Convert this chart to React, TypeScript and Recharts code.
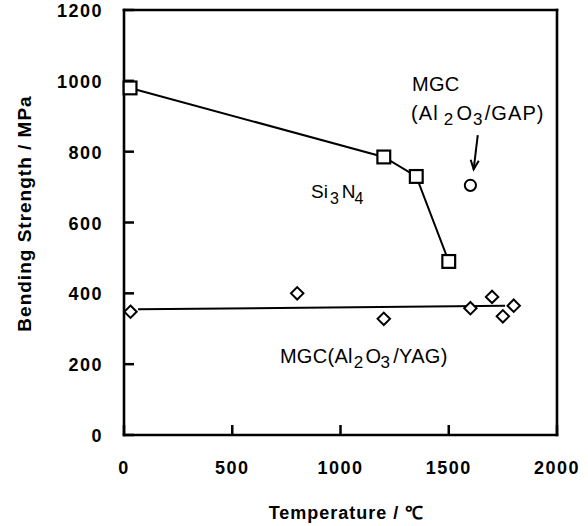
import React from 'react';
import { ScatterChart, Scatter, XAxis, YAxis, ReferenceLine, ReferenceDot } from 'recharts';

// ---- data ----
const xTicks = [0, 500, 1000, 1500, 2000];
const yTicks = [0, 200, 400, 600, 800, 1000, 1200];

const si3n4Temp = [28, 1200, 1350, 1500];
const si3n4Strength = [980, 785, 730, 490];

const yagTemp = [30, 800, 1200, 1600, 1700, 1750, 1800];
const yagStrength = [348, 400, 328, 358, 390, 335, 365];

const gapTemp = [1600];
const gapStrength = [705];

const yagFitTemp = [65, 1760];
const yagFitStrength = [355, 365];

const arrowTemp = [1634, 1615];
const arrowStrength = [847, 750];

const xTitle = 'Temperature / \u2103';
const yTitle = 'Bending Strength /  MPa';

const toPts = (xs: number[], ys: number[]) => xs.map((x, i) => ({ x, y: ys[i] }));
const si3n4Data = toPts(si3n4Temp, si3n4Strength);
const yagData = toPts(yagTemp, yagStrength);
const gapData = toPts(gapTemp, gapStrength);
const yagFit = toPts(yagFitTemp, yagFitStrength);
const arrowSeg = toPts(arrowTemp, arrowStrength);

const FONT = '"Liberation Sans", Arial, Helvetica, sans-serif';
const INK = '#000';

// ---- ticks ----
const BottomTick = (p: any) => {
  const { x, y, payload } = p;
  return (
    <g>
      <line x1={x} y1={y} x2={x} y2={y - 10} stroke={INK} strokeWidth={2.5} />
      <text x={x} y={y + 33} textAnchor="middle" dominantBaseline="central"
        fontFamily={FONT} fontWeight="bold" fontSize={18} letterSpacing={1.5} fill={INK}>
        {payload.value}
      </text>
    </g>
  );
};
const LeftTick = (p: any) => {
  const { x, y, payload } = p;
  return (
    <g>
      <line x1={x} y1={y} x2={x + 10} y2={y} stroke={INK} strokeWidth={2.5} />
      <text x={x - 21} y={y + 1} textAnchor="end" dominantBaseline="central"
        fontFamily={FONT} fontWeight="bold" fontSize={18} letterSpacing={1.5} fill={INK}>
        {payload.value}
      </text>
    </g>
  );
};
const TopTick = (p: any) => {
  const { x, y } = p;
  return <line x1={x} y1={y} x2={x} y2={y + 10} stroke={INK} strokeWidth={2.5} />;
};
const RightTick = (p: any) => {
  const { x, y } = p;
  return <line x1={x} y1={y} x2={x - 10} y2={y} stroke={INK} strokeWidth={2.5} />;
};

// ---- axis titles ----
const XTitle = (p: any) => {
  const vb = p.viewBox || { x: 124, y: 435, width: 433, height: 1 };
  return (
    <text x={vb.x + vb.width / 2 + 6} y={vb.y + 84} textAnchor="middle"
      fontFamily={FONT} fontWeight="bold" fontSize={18} letterSpacing={1} fill={INK}>
      {xTitle}
    </text>
  );
};
const YTitle = (p: any) => {
  const vb = p.viewBox || { x: 123, y: 10, width: 1, height: 425 };
  const cx = vb.x - 99;
  const cy = vb.y + vb.height / 2 - 9;
  return (
    <text x={cx} y={cy} transform={`rotate(-90 ${cx} ${cy})`} textAnchor="middle" dominantBaseline="central"
      fontFamily={FONT} fontWeight="bold" fontSize={19} letterSpacing={1} fill={INK}>
      {yTitle}
    </text>
  );
};

// ---- markers ----
const Square = (p: any) => {
  const { cx, cy } = p;
  const h = 6.4;
  return <rect x={cx - h} y={cy - h} width={2 * h} height={2 * h} fill="#fff" stroke={INK} strokeWidth={2.2} />;
};
const Diamond = (p: any) => {
  const { cx, cy } = p;
  const h = 6.2;
  return (
    <polygon points={`${cx},${cy - h} ${cx + h},${cy} ${cx},${cy + h} ${cx - h},${cy}`}
      fill="#fff" stroke={INK} strokeWidth={2} />
  );
};
const Circle = (p: any) => {
  const { cx, cy } = p;
  return <circle cx={cx} cy={cy} r={5.6} fill="#fff" stroke={INK} strokeWidth={2} />;
};

const ArrowShape = (p: any) => {
  const { x1, y1, x2, y2 } = p;
  const ang = Math.atan2(y2 - y1, x2 - x1);
  const L = 10;
  const a = 0.42;
  const ax1 = x2 - L * Math.cos(ang - a);
  const ay1 = y2 - L * Math.sin(ang - a);
  const ax2 = x2 - L * Math.cos(ang + a);
  const ay2 = y2 - L * Math.sin(ang + a);
  return (
    <g>
      <line x1={x1} y1={y1} x2={x2} y2={y2} stroke={INK} strokeWidth={2} />
      <polyline points={`${ax1},${ay1} ${x2},${y2} ${ax2},${ay2}`} fill="none" stroke={INK} strokeWidth={2} />
    </g>
  );
};

// ---- annotations ----
const txt = { fontFamily: FONT, fill: INK } as const;

const MgcLabel = (p: any) => (
  <text x={p.cx} y={p.cy} fontSize={20} letterSpacing={0.3} {...txt}>MGC</text>
);
const GapLabel = (p: any) => (
  <text x={p.cx} y={p.cy} fontSize={20} letterSpacing={1.1} {...txt}>
    (Al
    <tspan dx={5} dy={5} fontSize={17}>2</tspan>
    <tspan dx={2} dy={-5}>O</tspan>
    <tspan dy={5} fontSize={17}>3</tspan>
    <tspan dx={1} dy={-5}>/GAP)</tspan>
  </text>
);
const SiLabel = (p: any) => (
  <text x={p.cx} y={p.cy} fontSize={19} {...txt}>
    Si
    <tspan dx={2} dy={6} fontSize={16}>3</tspan>
    <tspan dx={3} dy={-6}>N</tspan>
    <tspan dx={-1} dy={6} fontSize={16}>4</tspan>
  </text>
);
const YagLabel = (p: any) => (
  <text x={p.cx} y={p.cy} fontSize={20} letterSpacing={0.3} {...txt}>
    MGC(Al
    <tspan dx={1} dy={5} fontSize={17}>2</tspan>
    <tspan dx={2} dy={-5}>O</tspan>
    <tspan dx={-1} dy={5} fontSize={17}>3</tspan>
    <tspan dx={3} dy={-5}>/YAG)</tspan>
  </text>
);

const labelAnchors = {
  mgc: { x: 1330, y: 972 },
  gap: { x: 1326, y: 889 },
  si: { x: 864, y: 669 },
  yag: { x: 720, y: 203 },
};

export default function App() {
  const axisLine = { stroke: INK, strokeWidth: 2.6, strokeLinecap: 'square' as const };
  return (
    <div style={{ position: 'absolute', left: 0, top: 0, width: 588, height: 526, background: '#fff' }}>
      <ScatterChart width={588} height={526} margin={{ top: 9, right: 30, bottom: 90, left: 123 }}>
        <XAxis xAxisId="b" dataKey="x" type="number" domain={[0, 2000]} ticks={xTicks} interval={0}
          orientation="bottom" height={1} tickSize={0} tickMargin={0} tickLine={false}
          axisLine={axisLine} tick={BottomTick} label={<XTitle />} />
        <XAxis xAxisId="t" dataKey="x" type="number" domain={[0, 2000]} ticks={xTicks} interval={0}
          orientation="top" height={1} tickSize={0} tickMargin={0} tickLine={false}
          axisLine={axisLine} tick={TopTick} />
        <YAxis yAxisId="l" dataKey="y" type="number" domain={[0, 1200]} ticks={yTicks} interval={0}
          orientation="left" width={1} tickSize={0} tickMargin={0} tickLine={false}
          axisLine={axisLine} tick={LeftTick} label={<YTitle />} />
        <YAxis yAxisId="r" dataKey="y" type="number" domain={[0, 1200]} ticks={yTicks} interval={0}
          orientation="right" width={1} tickSize={0} tickMargin={0} tickLine={false}
          axisLine={axisLine} tick={RightTick} />

        <ReferenceLine xAxisId="b" yAxisId="l" segment={yagFit} stroke={INK} strokeWidth={2} />
        <ReferenceLine xAxisId="b" yAxisId="l" segment={arrowSeg} shape={ArrowShape} />

        <Scatter xAxisId="b" yAxisId="l" data={si3n4Data} line={{ stroke: INK, strokeWidth: 2 }}
          shape={Square} isAnimationActive={false} />
        <Scatter xAxisId="b" yAxisId="l" data={yagData} shape={Diamond} isAnimationActive={false} />
        <Scatter xAxisId="b" yAxisId="l" data={gapData} shape={Circle} isAnimationActive={false} />

        <ReferenceDot xAxisId="b" yAxisId="l" x={labelAnchors.mgc.x} y={labelAnchors.mgc.y} shape={MgcLabel} />
        <ReferenceDot xAxisId="b" yAxisId="l" x={labelAnchors.gap.x} y={labelAnchors.gap.y} shape={GapLabel} />
        <ReferenceDot xAxisId="b" yAxisId="l" x={labelAnchors.si.x} y={labelAnchors.si.y} shape={SiLabel} />
        <ReferenceDot xAxisId="b" yAxisId="l" x={labelAnchors.yag.x} y={labelAnchors.yag.y} shape={YagLabel} />
      </ScatterChart>
    </div>
  );
}
